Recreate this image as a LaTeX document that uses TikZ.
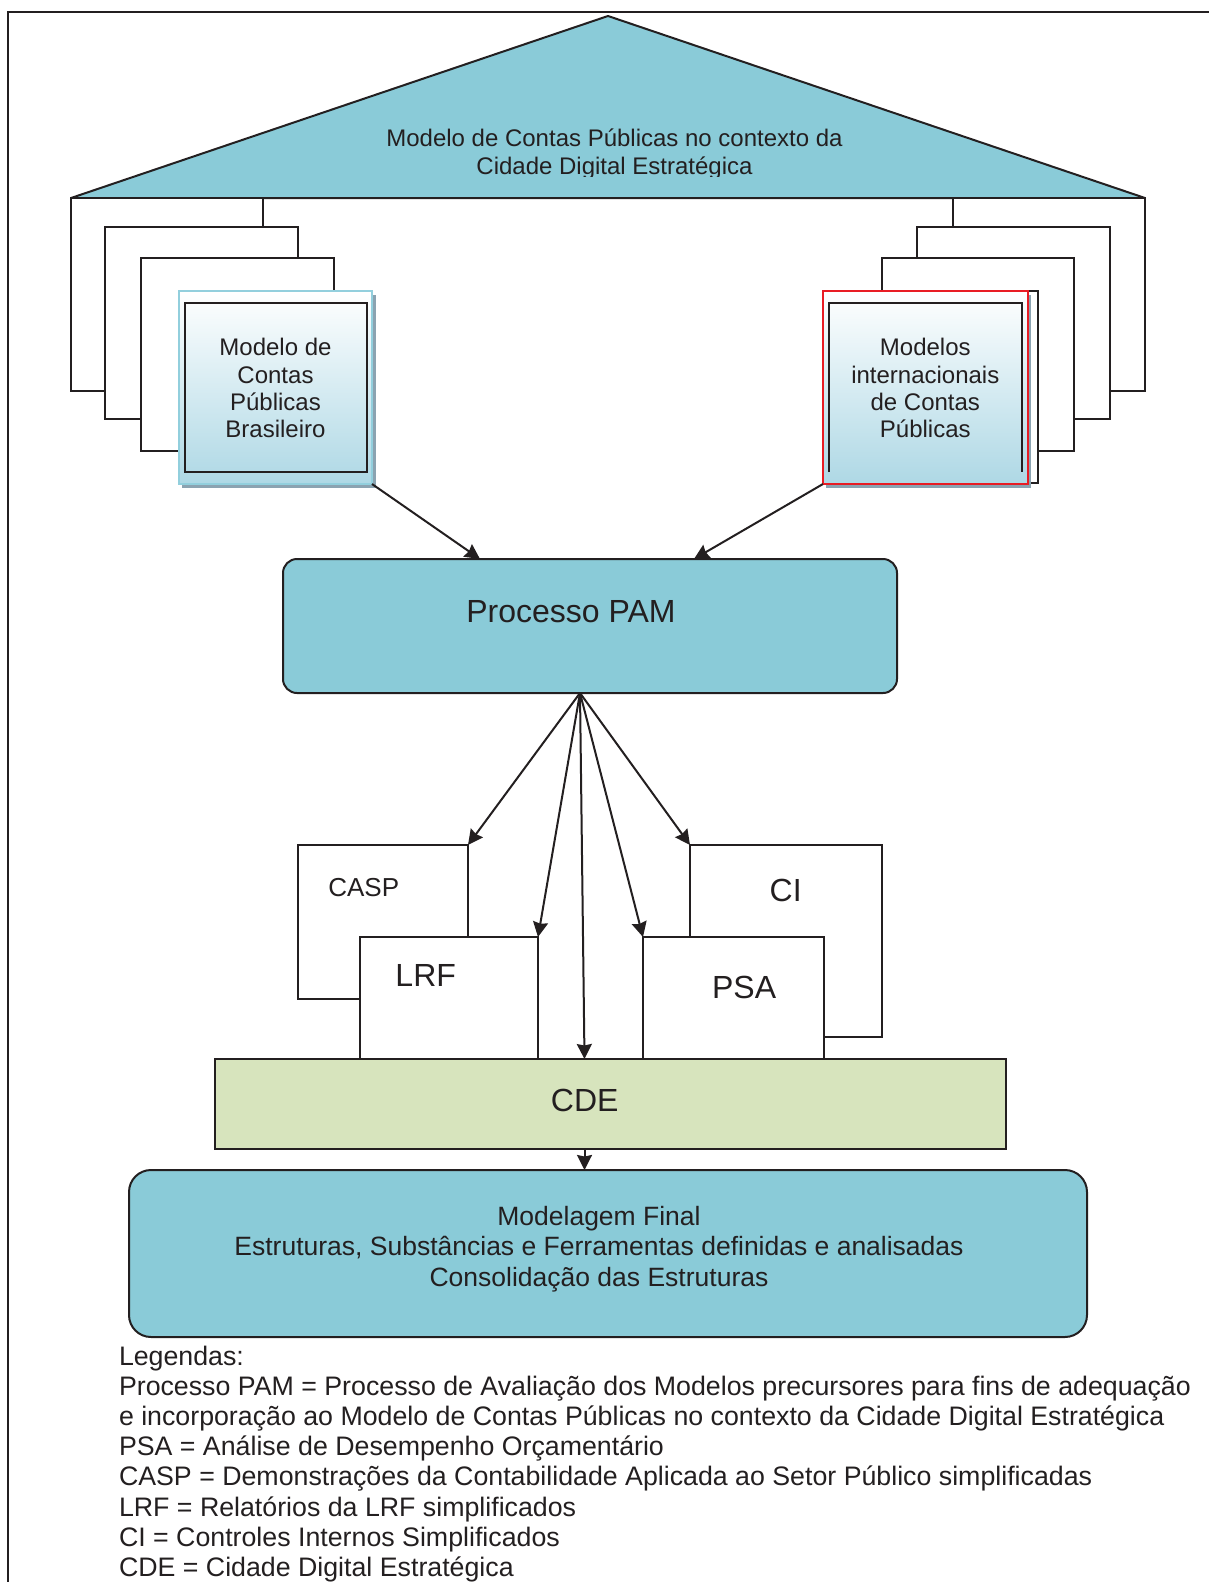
\documentclass[tikz,border=0pt]{standalone}
\usepackage{fontspec}
\setmainfont{Liberation Sans}
\usetikzlibrary{arrows.meta,calc}

\definecolor{ink}{RGB}{35,31,32}
\definecolor{roofblue}{RGB}{138,203,216}
\definecolor{cdegreen}{RGB}{215,228,189}
\definecolor{paleblue}{RGB}{174,216,229}
\definecolor{edgeblue}{RGB}{146,207,221}
\definecolor{shadowblue}{RGB}{139,163,177}
\definecolor{alertred}{RGB}{232,28,36}

\newcommand\setfs[2]{\fontsize{#1}{#2}\selectfont}

\tikzset{
  every node/.style={outer sep=0pt},
  panel/.style={draw=ink, line width=2pt, fill=white, inner sep=0pt},
  card/.style={line width=2pt, top color=white, bottom color=paleblue, inner sep=0pt},
  arr/.style={draw=ink, line width=2pt, -{Stealth[length=15pt,width=15pt,inset=1.5pt]}},
  txt/.style={inner sep=0pt, text=ink, align=center},
}

\begin{document}
\begin{tikzpicture}[x=1pt,y=-1pt]
\useasboundingbox (0,0) rectangle (1209,1582);

% page frame
\draw[ink, line width=2pt] (7.5,1590) -- (7.5,12) -- (1215,12);

% roof of the model (multi-line nodes: base = baseline of the last line)
\fill[roofblue] (71,198) -- (608,16) -- (1145,198) -- cycle;
\draw[ink, line width=2pt, line join=bevel] (71,198) -- (608,16) -- (1145,198) -- cycle;
\begin{scope}
  \clip (0,0) rectangle (1209,176.5);
  \node[txt, anchor=base, font=\setfs{24}{27.6}] (rooftitle) at (614.5,174.3)
    {Modelo de Contas Públicas no contexto da\\Cidade Digital Estratégica};
\end{scope}

% stacked sheets, Brazilian side
\node[panel, minimum width=192, minimum height=193] (bl1) at (167,294.5) {};
\node[panel, minimum width=193, minimum height=192] (bl2) at (201.5,323) {};
\node[panel, minimum width=193, minimum height=193] (bl3) at (237.5,354.5) {};
\fill[shadowblue] (182,295) rectangle (375.5,488);
\node[card, draw=edgeblue, minimum width=193, minimum height=193] (brfront) at (275.5,387.5) {};
\node[draw=ink, line width=2pt, inner sep=0pt, minimum width=181.5, minimum height=169] (brinner) at (275.75,387.5) {};
\node[txt, anchor=base, font=\setfs{24}{27.2}] (brtext) at (275.5,437.5)
  {Modelo de\\Contas\\Públicas\\Brasileiro};

% stacked sheets, international side
\node[panel, minimum width=192, minimum height=193] (in1) at (1049,294.5) {};
\node[panel, minimum width=193, minimum height=192] (in2) at (1013.5,323) {};
\node[panel, minimum width=192, minimum height=193] (in3) at (978,354.5) {};
\node[panel, minimum width=193, minimum height=192] (in4) at (941.5,387) {};
\fill[shadowblue] (826,295) rectangle (1031,488);
\node[card, draw=alertred, minimum width=205, minimum height=193] (intfront) at (925.5,387.5) {};
\draw[ink, line width=2pt] (829,472) -- (829,303) -- (1022,303) -- (1022,472);
\node[txt, anchor=base, font=\setfs{24}{27.2}] (inttext) at (925.3,437.5)
  {Modelos\\internacionais\\de Contas\\Públicas};

% evaluation process
\node[panel, fill=roofblue, rounded corners=14, minimum width=614, minimum height=134] (pam) at (590,626) {};
\node[txt, anchor=base, font=\setfs{32}{38}] (pamtext) at (571,622.3) {Processo PAM};
\draw[arr] (brfront.south east) -- ($(pam.north)+(-110,0)$);
\draw[arr] (intfront.south west) -- ($(pam.north)+(104,0)$);

% simplified reports
\node[panel, minimum width=170.5, minimum height=153.5] (casp) at (382.75,921.75) {};
\node[panel, minimum width=192, minimum height=192] (ci) at (786,941) {};
\node[panel, minimum width=178, minimum height=122] (lrf) at (449,998) {};
\node[panel, minimum width=180.5, minimum height=122] (psa) at (733.25,998) {};
\node[txt, anchor=base, font=\setfs{26}{30}] (casptext) at (363.7,896.7) {CASP};
\node[txt, anchor=base, font=\setfs{32}{38}] (citext) at (785.7,901.7) {CI};
\node[txt, anchor=base, font=\setfs{32}{38}] (lrftext) at (425.7,986.6) {LRF};
\node[txt, anchor=base, font=\setfs{32}{38}] (psatext) at (744.1,998) {PSA};

% strategic digital city
\node[panel, fill=cdegreen, minimum width=791, minimum height=90] (cde) at (610.5,1104) {};
\node[txt, anchor=base, font=\setfs{32}{38}] (cdetext) at (584.7,1111.4) {CDE};

% final model
\node[panel, fill=roofblue, rounded corners=22, minimum width=958, minimum height=167] (final) at (608,1253.5) {};
\node[txt, anchor=base, font=\setfs{26.5}{30.5}] (finaltext) at (599,1286)
  {Modelagem Final\\Estruturas, Substâncias e Ferramentas definidas e analisadas\\Consolidação das Estruturas};

% connectors from the process
\coordinate (hub) at ($(pam.south)+(-10,0)$);
\draw[arr] (hub) -- (casp.north east);
\draw[arr] (hub) -- (lrf.north east);
\draw[arr] (hub) -- ($(cde.north)+(-26,0)$);
\draw[arr] (hub) -- (psa.north west);
\draw[arr] (hub) -- (ci.north west);
\draw[arr] ($(cde.south)+(-26,0)$) coordinate (cdeout) -- (cdeout |- final.north);

% legend
\node[inner sep=0pt, text=ink, align=left, anchor=base west, font=\setfs{26.75}{30.2}] (legend) at (119,1576.5)
  {Legendas:\\
   Processo PAM = Processo de Avaliação dos Modelos precursores para fins de adequação\\
   e incorporação ao Modelo de Contas Públicas no contexto da Cidade Digital Estratégica\\
   PSA = Análise de Desempenho Orçamentário\\
   CASP = Demonstrações da Contabilidade Aplicada ao Setor Público simplificadas\\
   LRF = Relatórios da LRF simplificados\\
   CI = Controles Internos Simplificados\\
   CDE = Cidade Digital Estratégica};
\end{tikzpicture}
\end{document}
